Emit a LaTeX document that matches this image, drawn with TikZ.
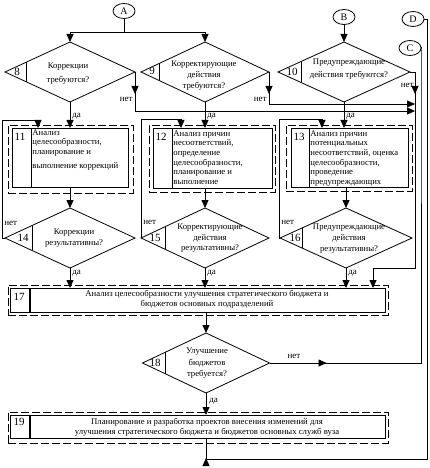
\documentclass[tikz,border=0pt]{standalone}
\usepackage{fontspec}
\setmainfont{Liberation Serif}
\usetikzlibrary{arrows.meta,shapes.geometric,calc}
\begin{document}
\begin{tikzpicture}[x=1pt,y=-1pt,line width=0.8pt,
 arr/.style={-{Triangle[width=7pt,length=8pt]}},
 dia/.style={diamond,draw,inner sep=0pt,outer sep=0pt},
 conn/.style={ellipse,draw,minimum width=22pt,minimum height=15pt,inner sep=0pt,outer sep=0pt,font=\fontsize{10}{10}\selectfont},
 sbox/.style={draw,rectangle,inner sep=0pt,outer sep=0pt},
 obox/.style={draw,rectangle,dash pattern=on 8pt off 3pt,inner sep=0pt,outer sep=0pt},
 dtxt/.style={font=\fontsize{8.7}{11}\selectfont,inner sep=0pt,align=center},
 btxt/.style={font=\fontsize{8.7}{9.7}\selectfont,inner sep=0pt,align=left,anchor=north west},
 num/.style={font=\fontsize{11}{11}\selectfont,inner sep=0pt},
 lab/.style={font=\fontsize{9}{9}\selectfont,inner sep=0pt}]

\fill[white] (0,0) rectangle (429,468);
\useasboundingbox (0,0) rectangle (429,468);

% off-page connectors
\node[conn] (A) at (124,11) {A};
\node[conn] (B) at (344,17) {B};
\node[conn] (D) at (413,19) {D};
\node[conn] (C) at (410,48) {C};

% decision diamonds
\node[dia,minimum width=130pt,minimum height=60pt] (d8)  at (70,72) {};
\node[dia,minimum width=128pt,minimum height=60pt] (d9)  at (205,72) {};
\node[dia,minimum width=132pt,minimum height=60pt] (d10) at (344,72) {};
\node[dia,minimum width=130pt,minimum height=60pt] (d14) at (70,238) {};
\node[dia,minimum width=128pt,minimum height=60pt] (d15) at (205,238) {};
\node[dia,minimum width=132pt,minimum height=60pt] (d16) at (346,238) {};
\node[dia,minimum width=127pt,minimum height=60pt] (d18) at (206,363) {};

% dividers in diamonds
\draw ($(d8.west)!0.323!(d8.north)$) -- ($(d8.west)!0.323!(d8.south)$);
\draw ($(d9.west)!0.281!(d9.north)$) -- ($(d9.west)!0.281!(d9.south)$);
\draw ($(d10.west)!0.348!(d10.north)$) -- ($(d10.west)!0.348!(d10.south)$);
\draw ($(d14.west)!0.415!(d14.north)$) -- ($(d14.west)!0.415!(d14.south)$);
\draw ($(d15.west)!0.375!(d15.north)$) -- ($(d15.west)!0.375!(d15.south)$);
\draw ($(d16.west)!0.333!(d16.north)$) -- ($(d16.west)!0.333!(d16.south)$);
\draw ($(d18.west)!0.354!(d18.north)$) -- ($(d18.west)!0.354!(d18.south)$);

% numbers in diamonds
\node[num] (n8)  at (17,72) {8};
\node[num] (n9)  at (152,71) {9};
\node[num] (n10) at (292,72) {10};
\node[num] (n14) at (23,238) {14};
\node[num] (n15) at (155,238) {15};
\node[num] (n16) at (295,238) {16};
\node[num] (n18) at (155,363) {18};

% diamond texts
\node[dtxt,font=\fontsize{8.7}{14}\selectfont] (t8) at (68,74) {Коррекции\\требуются?};
\node[dtxt] (t9) at (204,76) {Корректирующие\\действия\\требуются?};
\node[dtxt,font=\fontsize{8.7}{13}\selectfont] (t10) at (349,69.5) {Предупреждающие\\действия требуются?};
\node[dtxt] (t14) at (74,238.5) {Коррекции\\результативны?};
\node[dtxt,font=\fontsize{8.7}{10.5}\selectfont] (t15) at (210,238.5) {Корректирующие\\действия\\результативны?};
\node[dtxt] (t16) at (349,239) {Предупреждающие\\действия\\результативны?};
\node[dtxt,font=\fontsize{8.7}{11.5}\selectfont] (t18) at (207,363.5) {Улучшение\\бюджетов\\требуется?};

% process boxes (outer dashed, inner solid)
\node[obox,minimum width=125pt,minimum height=68pt] (o11) at (70.5,159) {};
\node[obox,minimum width=126pt,minimum height=67pt] (o12) at (212,158.5) {};
\node[obox,minimum width=126pt,minimum height=66pt] (o13) at (349,158) {};
\node[obox,minimum width=380pt,minimum height=30pt] (o17) at (198,300) {};
\node[obox,minimum width=380pt,minimum height=31pt] (o19) at (198,427.5) {};

\node[sbox,minimum width=116pt,minimum height=59pt] (b11) at (70,157.5) {};
\node[sbox,minimum width=119pt,minimum height=60pt] (b12) at (212.5,158) {};
\node[sbox,minimum width=117pt,minimum height=59pt] (b13) at (349.5,157.5) {};
\node[sbox,minimum width=375pt,minimum height=24pt] (b17) at (197.5,300) {};
\node[sbox,minimum width=375pt,minimum height=23pt] (b19) at (197.5,426.5) {};

\draw ($(b11.north west)+(19,0)$) -- ($(b11.south west)+(19,0)$);
\draw ($(b12.north west)+(19,0)$) -- ($(b12.south west)+(19,0)$);
\draw ($(b13.north west)+(18,0)$) -- ($(b13.south west)+(18,0)$);
\draw[line width=1.6pt] ($(b17.north west)+(20,0)$) -- ($(b17.south west)+(20,0)$);
\draw[line width=1.6pt] ($(b19.north west)+(20,0)$) -- ($(b19.south west)+(20,0)$);

\node[num] (n11) at (20,137) {11};
\node[num] (n12) at (161,137) {12};
\node[num] (n13) at (299,137) {13};
\node[num] (n17) at (19,297) {17};
\node[num] (n19) at (19,422) {19};

\node[btxt] (t11) at (32,129) {Анализ\\целесообразности,\\планирование и\\[4pt]выполнение коррекций};
\node[btxt] (t12) at (173,130) {Анализ причин\\несоответствий,\\определение\\целесообразности,\\планирование и\\выполнение};
\node[btxt] (t13) at (310,130) {Анализ причин\\потенциальных\\несоответствий, оценка\\целесообразности,\\проведение\\предупреждающих};
\node[dtxt,font=\fontsize{8.7}{9.5}\selectfont] (t17) at (207,299.5) {Анализ целесообразности улучшения стратегического бюджета и\\бюджетов основных подразделений};
\node[dtxt,font=\fontsize{8.7}{10}\selectfont] (t19) at (207,427) {Планирование и разработка проектов внесения изменений для\\улучшения стратегического бюджета и бюджетов основных служб вуза};

% junction coordinates
\coordinate (aj) at (124,32);
\coordinate (k14) at (38,120);
\coordinate (k15) at (181,119);
\coordinate (k16) at (322,119);
\coordinate (bus) at (415,268);
\coordinate (k17) at (373,268);
\coordinate (cbus) at (421,47);
\coordinate (dbot) at (427,459);

% A and B entries
\draw (A) -- (aj);
\draw[arr] (aj) -| (d8.north);
\draw[arr] (aj) -| (d9.north);
\draw[arr] (B) -- (d10.north);

% "yes" branches
\draw[arr] (d8.south) -- (d8.south |- b11.north);
\draw[arr] (d9.south) -- (d9.south |- b12.north);
\draw[arr] (d10.south) -- (d10.south |- b13.north);
\draw[arr] (d8.south |- b11.south) -- (d14.north);
\draw[arr] (d9.south |- b12.south) -- (d15.north);
\draw[arr] (d16.north |- b13.south) -- (d16.north);
\draw[arr] (d14.south) -- (d14.south |- b17.north);
\draw[arr] (d15.south) -- (d15.south |- b17.north);
\draw[arr] (d16.south) -- (d16.south |- b17.north);
\draw[arr] (d18.north |- b17.south) -- (d18.north);
\draw[arr] (d18.south) -- (d18.south |- b19.north);

% "no" branches of 8, 9, 10 to bus
\draw[arr] (d8.east) -- ++(0,22);
\draw[arr] (d8.east) |- (bus |- 0,111);
\draw[arr] (d9.east) -- ++(0,22);
\draw[arr] (d9.east) |- (bus |- 0,104);
\draw[arr] (d10.east) -| (bus |- 0,94);
\draw[arr] (d10.east) -| (bus) -- (k17) -- (k17 |- b17.north);

% "no" loops of 14, 15, 16
\draw[arr] (d14.west) -- ++(-3,0) |- (k14) -- (k14 |- b11.north);
\draw[arr] (d15.west) |- (k15) -- (k15 |- b12.north);
\draw[arr] (d16.west) -- ++(-1,0) |- (k16) -- (k16 |- b13.north);

% 18 no -> C
\draw[arr] (d18.east) -- ++(57,0);
\draw (d18.east) -| (cbus) -- (C.east);

% 19 -> D
\draw[arr] (d18.south |- b19.south) -- (d18.south |- dbot) ++(0,-1);
\draw (d18.south |- b19.south) -- (d18.south |- dbot) -- (dbot) -- (dbot |- D.east) -- (D.east);

% labels
\node[lab,anchor=east] (l8n) at (133,99.5) {нет};
\node[lab,anchor=east] (l9n) at (267,99) {нет};
\node[lab,anchor=east] (l10n) at (414,85) {нет};
\node[lab,anchor=west] (l14n) at (4,223) {нет};
\node[lab,anchor=west] (l15n) at (143,222) {нет};
\node[lab,anchor=west] (l16n) at (281,222) {нет};
\node[lab] (l18n) at (294,356) {нет};
\node[lab,anchor=west] (l8y) at (72,116) {да};
\node[lab,anchor=west] (l9y) at (207,116) {да};
\node[lab,anchor=west] (l10y) at (346,116) {да};
\node[lab,anchor=west] (l14y) at (72,273) {да};
\node[lab,anchor=west] (l15y) at (207,273) {да};
\node[lab,anchor=west] (l16y) at (348,273) {да};
\node[lab,anchor=west] (l18y) at (209,401) {да};
\end{tikzpicture}
\end{document}
